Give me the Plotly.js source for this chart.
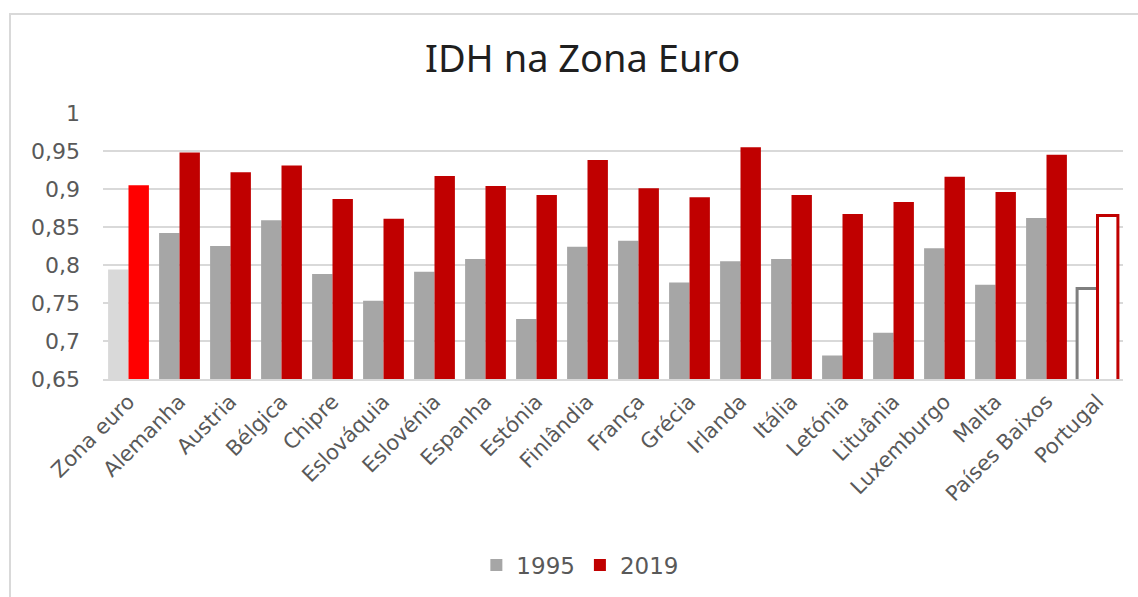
<!DOCTYPE html>
<html>
<head>
<meta charset="utf-8">
<script src="https://cdn.plot.ly/plotly-3.0.1.min.js"></script>
<style>
  html, body { margin: 0; padding: 0; background: #fff; }
  #chart { width: 1138px; height: 597px; }
  #frame { position: absolute; left: 9px; top: 13px; width: 1140px; height: 600px;
           border-left: 2px solid #D9D9D9; border-top: 2px solid #D9D9D9; pointer-events: none; }
</style>
</head>
<body>
<div id="chart"></div>
<div id="frame"></div>
<script>
const categories = ["Zona euro", "Alemanha", "Austria", "Bélgica", "Chipre", "Eslováquia", "Eslovénia",
  "Espanha", "Estónia", "Finlândia", "França", "Grécia", "Irlanda", "Itália", "Letónia", "Lituânia",
  "Luxemburgo", "Malta", "Países Baixos", "Portugal"];
const idh1995 = [0.794, 0.842, 0.825, 0.859, 0.788, 0.753, 0.791, 0.808, 0.729, 0.824, 0.832, 0.777,
  0.805, 0.808, 0.681, 0.711, 0.822, 0.774, 0.862, 0.769];
const idh2019 = [0.905, 0.948, 0.922, 0.931, 0.887, 0.861, 0.917, 0.904, 0.892, 0.938, 0.901, 0.889,
  0.955, 0.892, 0.867, 0.883, 0.916, 0.896, 0.945, 0.865];
const seriesNames = ["1995", "2019"];
const yTicks = [0.65, 0.7, 0.75, 0.8, 0.85, 0.9, 0.95, 1];
const yTickText = ["0,65", "0,7", "0,75", "0,8", "0,85", "0,9", "0,95", "1"];

const GRAY = "#A6A6A6", RED = "#C00000";
function colorsFor(base, euro, portugal) {
  return categories.map((c) => c === "Zona euro" ? euro : (c === "Portugal" ? portugal : base));
}
function lineColorsFor(base, portugalLine) {
  return categories.map((c) => c === "Portugal" ? portugalLine : base);
}
function lineWidths() {
  return categories.map((c) => c === "Portugal" ? 3 : 0);
}

const traces = [
  {
    type: "bar", name: seriesNames[0], x: categories, y: idh1995, offsetgroup: "a",
    showlegend: false, hoverinfo: "x+y",
    marker: { color: colorsFor(GRAY, "#D9D9D9", "#FFFFFF"),
              line: { color: lineColorsFor(GRAY, "#7F7F7F"), width: lineWidths() } }
  },
  {
    type: "bar", name: seriesNames[1], x: categories, y: idh2019, offsetgroup: "b",
    showlegend: false, hoverinfo: "x+y",
    marker: { color: colorsFor(RED, "#FF0000", "#FFFFFF"),
              line: { color: lineColorsFor(RED, RED), width: lineWidths() } }
  },
  { type: "bar", name: seriesNames[0], x: [categories[0]], y: [null], offsetgroup: "a",
    marker: { color: GRAY }, showlegend: true },
  { type: "bar", name: seriesNames[1], x: [categories[0]], y: [null], offsetgroup: "b",
    marker: { color: RED }, showlegend: true }
];

const layout = {
  width: 1138, height: 597,
  margin: { l: 103, r: 15, t: 113, b: 217 },
  paper_bgcolor: "#FFFFFF", plot_bgcolor: "#FFFFFF",
  font: { family: "DejaVu Sans, sans-serif", color: "#595959" },
  title: { text: "IDH na Zona Euro", x: 0.512, xanchor: "center", y: 0.902, yanchor: "middle",
           font: { size: 38, color: "#1F1F1F", family: "Noto Sans, sans-serif" } },
  barmode: "group", bargap: 0.2, bargroupgap: 0,
  xaxis: {
    type: "category", tickangle: -45, tickfont: { size: 21, color: "#595959" },
    showgrid: false, showline: true, linecolor: "#D9D9D9", linewidth: 2,
    ticks: "", automargin: false
  },
  yaxis: {
    range: [0.65, 1], tickvals: yTicks, ticktext: yTickText,
    tickfont: { size: 22, color: "#595959" },
    showgrid: true, gridcolor: "#D9D9D9", gridwidth: 2,
    zeroline: false, showline: false, ticks: "", ticklabelstandoff: 22, automargin: false
  },
  legend: {
    orientation: "h", x: 0.468, xanchor: "center", y: -0.693, yanchor: "middle",
    font: { size: 23, color: "#595959" }, itemwidth: 30, traceorder: "normal"
  },
  showlegend: true
};

Plotly.newPlot("chart", traces, layout, { displayModeBar: false, staticPlot: true });
</script>
</body>
</html>
